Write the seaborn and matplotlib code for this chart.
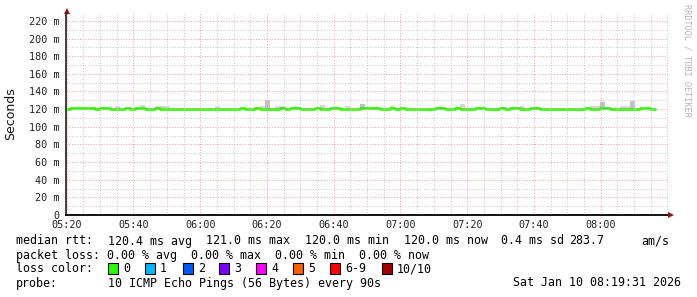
import numpy as np
import pandas as pd
import matplotlib
matplotlib.use("Agg")
import matplotlib.pyplot as plt
from matplotlib.patches import Rectangle
import seaborn as sns

# ---------------- data ----------------
# 90 s steps, minutes relative to 05:20
step_start = -0.6
step_len = 1.5
median_rtt = [120, 121, 121, 121, 121, 121, 120, 121, 121, 120,
              120, 120, 121, 120, 121, 121, 120, 120, 121, 120,
              120, 120, 120, 120, 120, 120, 120, 120, 120, 120,
              120, 120, 120, 120, 120, 121, 120, 120, 121, 120,
              120, 120, 120, 121, 120, 121, 121, 120, 120, 120,
              121, 120, 120, 121, 121, 120, 120, 120, 120, 121,
              121, 121, 121, 120, 120, 121, 120, 121, 120, 120,
              120, 120, 120, 120, 121, 121, 120, 120, 121, 120,
              120, 120, 121, 121, 120, 120, 120, 121, 120, 121,
              121, 120, 120, 121, 121, 120, 120, 120, 120, 120,
              120, 120, 120, 120, 121, 120, 120, 121, 121, 120,
              120, 120, 120, 120, 120, 121, 121, 120]
# smoke (ping spread) tops for the steps where it shows above the median
smoke_idx = [10, 15, 18, 19, 20, 30, 39, 40, 42, 43, 51, 56, 59, 65, 79, 91,
             105, 106, 107, 111, 112, 113]
smoke_top = [123, 125, 124, 123, 123, 123, 124, 130, 124, 124, 125, 123, 126,
             124, 126, 123, 123, 123, 128, 124, 124, 129.5]
smoke_shade = ["l", "l", "l", "l", "l", "l", "l", "d", "l", "l", "l", "l", "d",
               "l", "l", "l", "l", "l", "d", "l", "l", "d"]

x_tick_pos = [0, 20, 40, 60, 80, 100, 120, 140, 160]
x_tick_labels = ["05:20", "05:40", "06:00", "06:20", "06:40", "07:00",
                 "07:20", "07:40", "08:00"]
y_tick_pos = [0, 20, 40, 60, 80, 100, 120, 140, 160, 180, 200, 220]
y_tick_labels = ["0", "20 m", "40 m", "60 m", "80 m", "100 m", "120 m",
                 "140 m", "160 m", "180 m", "200 m", "220 m"]

loss_labels = ["0", "1", "2", "3", "4", "5", "6-9", "10/10"]
loss_colors = ["#26ff00", "#00b8ff", "#0059ff", "#7e00ff", "#ff00ff",
               "#ff5e00", "#ff0000", "#a10000"]

line1 = ["median rtt:", "120.4 ms avg", "121.0 ms max", "120.0 ms min",
         "120.0 ms now", "0.4 ms sd", "283.7", "am/s"]
line2 = "packet loss: 0.00 % avg  0.00 % max  0.00 % min  0.00 % now"
probe_text = "10 ICMP Echo Pings (56 Bytes) every 90s"
date_text = "Sat Jan 10 08:19:31 2026"

# ---------------- figure ----------------
sns.set_theme(style="white")
plt.rcParams["font.family"] = ["DejaVu Sans"]
MONO = "DejaVu Sans Mono"

W, H = 697, 297
fig = plt.figure(figsize=(W / 100, H / 100), dpi=100)
fig.patch.set_facecolor("white")
px_l, px_r, px_t, px_b = 65.7, 668.0, 13.0, 215.0
ax = fig.add_axes([px_l / W, 1 - px_b / H, (px_r - px_l) / W, (px_b - px_t) / H])
ax.set_facecolor("white")

ppm = 3.3375   # px per minute
ppv = 0.8823   # px per ms
ax.set_xlim((px_l - 66.7) / ppm, (px_r - 66.7) / ppm)
ax.set_ylim(0, (px_b - px_t) / ppv)

n = len(median_rtt)
t = step_start + step_len * np.arange(n + 1)
df = pd.DataFrame({"t": t, "rtt": median_rtt + [median_rtt[-1]]})

# smoke
for i, top, sh in zip(smoke_idx, smoke_top, smoke_shade):
    col = "#d6d6d6" if sh == "l" else "#c2c2c2"
    ax.bar(t[i], top - 119.3, bottom=119.3, width=step_len, align="edge",
           color=col, linewidth=0, zorder=1)

sns.lineplot(data=df, x="t", y="rtt", ax=ax, drawstyle="steps-post",
             color="#26ff00", linewidth=1.9, estimator=None, zorder=2)

# grid
ax.set_xticks(x_tick_pos)
ax.set_xticklabels(x_tick_labels)
ax.set_xticks(np.arange(0, 181, 5), minor=True)
ax.set_yticks(y_tick_pos)
ax.set_yticklabels(y_tick_labels)
ax.set_yticks(np.arange(0, 229, 10), minor=True)
ax.set_axisbelow(False)
ax.grid(which="minor", color="#c8c8c8", linestyle=(0, (1, 1.6)), linewidth=0.75)
ax.grid(which="major", color="#eaa6a6", linestyle=(0, (1, 1.6)), linewidth=0.75)
ax.set_xlabel("")
ax.set_ylabel("")

ax.tick_params(axis="both", which="both", length=0)
ax.tick_params(axis="y", which="major", pad=4.2, labelsize=7.3, labelcolor="#222222")
ax.tick_params(axis="x", which="major", pad=3.5, labelsize=7.3, labelcolor="#222222")
for lab in ax.get_xticklabels() + ax.get_yticklabels():
    lab.set_family(MONO)

for s in ["top", "right"]:
    ax.spines[s].set_visible(False)
ax.spines["left"].set_color("#303030")
ax.spines["bottom"].set_color("#000000")
ax.spines["left"].set_linewidth(1.3)
ax.spines["bottom"].set_linewidth(1.3)
ax.spines["left"].set_zorder(5)
ax.spines["bottom"].set_zorder(5)

# arrows
ax.plot([0.0017], [(px_b - 11) / (px_b - px_t)], marker="^", ms=5, color="#8b1515",
        transform=ax.transAxes, clip_on=False, zorder=6, mew=0)
ax.plot([(671 - px_l) / (px_r - px_l)], [0], marker=">", ms=5, color="#8b1515",
        transform=ax.transAxes, clip_on=False, zorder=6, mew=0)

# y label
fig.text(10.5 / W, 1 - 114 / H, "Seconds", rotation=90, ha="center", va="center",
         fontsize=9, color="#111111")

# watermark
fig.text(687 / W, 1 - 4 / H, "RRDTOOL / TOBI OETIKER", rotation=270, ha="center",
         va="top", fontsize=6.1, color="#b5b5b5", family=MONO)

# legend text
fs = 8.4
def ftxt(xp, yp, s, **kw):
    fig.text(xp / W, 1 - yp / H, s, fontsize=fs, family=MONO, color="black",
             va="center", **kw)

x_pos1 = [16, 108, 206.5, 305, 404, 501, 569, 641]
for xp, s in zip(x_pos1, line1):
    ftxt(xp, 241, s)
ftxt(16, 255, line2)
ftxt(16, 268.5, "loss color:")
sq_x = [108, 145, 183, 219, 256, 293, 330, 382]
for xp, lab, c in zip(sq_x, loss_labels, loss_colors):
    fig.add_artist(Rectangle((xp / W, 1 - 274 / H), 10 / W, 11 / H,
                             transform=fig.transFigure, facecolor=c,
                             edgecolor="black", linewidth=0.8))
    ftxt(xp + 15, 268.5, lab)
ftxt(16, 283, "probe:")
ftxt(108, 283, probe_text)
ftxt(681, 283, date_text, ha="right")

fig.savefig("out.png", dpi=100, facecolor="white")
